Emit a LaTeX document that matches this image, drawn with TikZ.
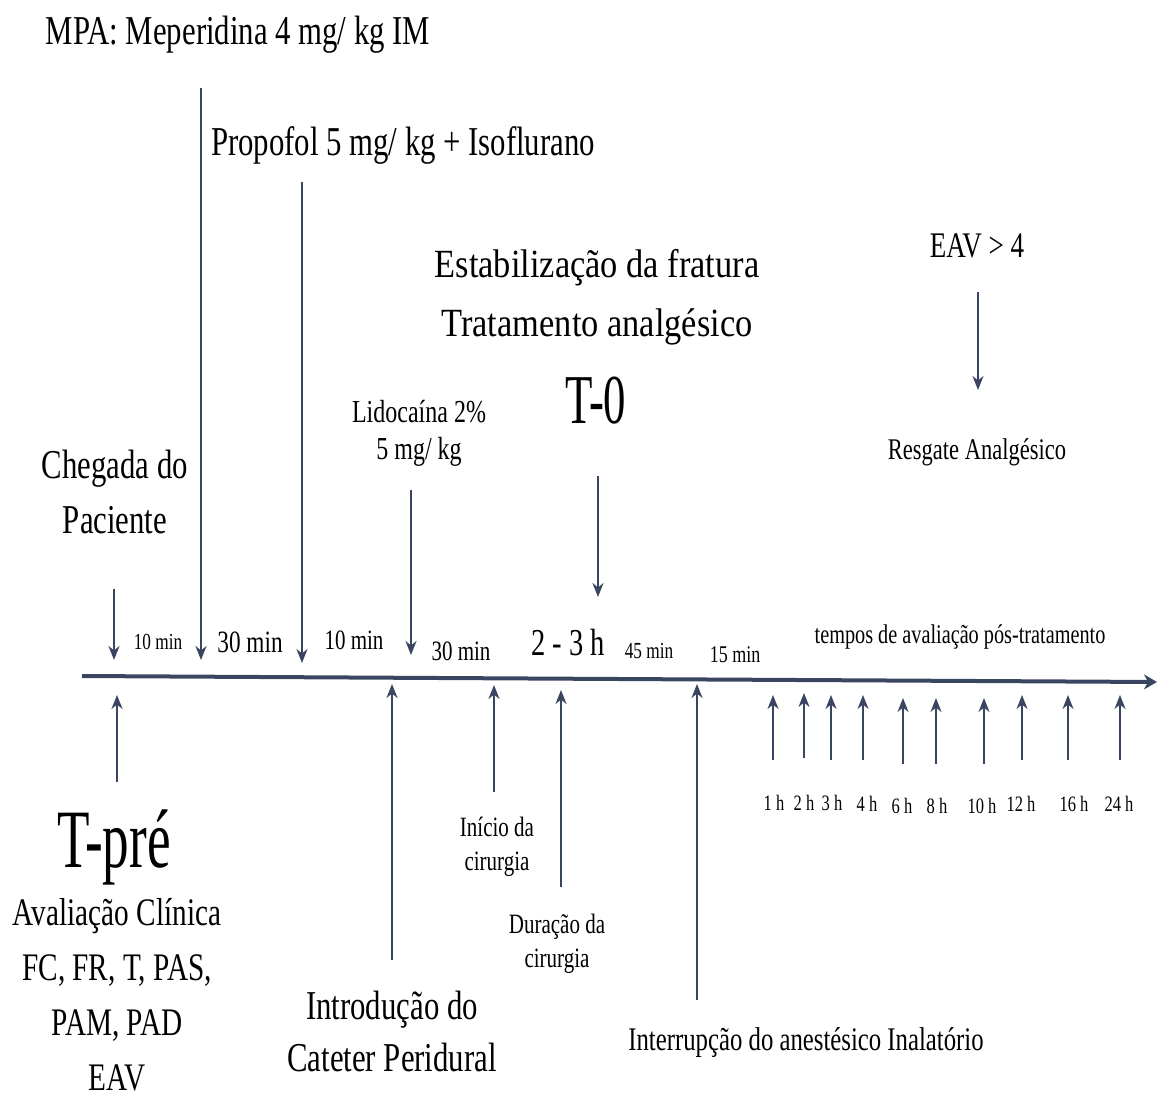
\documentclass[tikz,border=0pt]{standalone}
\usepackage{fontspec}
\setmainfont[FakeStretch=0.75]{Liberation Serif}
\newfontfamily\wideserif[FakeStretch=0.86]{Liberation Serif}
\newfontfamily\tallserif[FakeStretch=0.64]{Liberation Serif}
\usetikzlibrary{arrows.meta}

\begin{document}
\begin{tikzpicture}[x=1pt, y=-1pt,
  lbl/.style={inner sep=0pt, align=center, anchor=base},
  sz/.style 2 args={font=\fontsize{#1}{#2}\selectfont},
  szw/.style 2 args={font=\wideserif\fontsize{#1}{#2}\selectfont},
  szt/.style 2 args={font=\tallserif\fontsize{#1}{#2}\selectfont},
  evarrow/.style={draw=lineCol, line width=2.2pt, -{Stealth[length=14pt, width=11pt, inset=4.5pt]}},
  axisline/.style={draw=lineCol, line width=4pt, -{Stealth[length=13pt, width=15pt, inset=4pt]}},
]

%% ── Colours ──────────────────────────────────────────────────────────────────
\definecolor{lineCol}{HTML}{3A4661}

\useasboundingbox (0,0) rectangle (1161,1100);

%% ── Time axis ────────────────────────────────────────────────────────────────
\coordinate (tStart) at (82,676);
\coordinate (tEnd)   at (1157,682);
\draw[axisline] (tStart) -- (tEnd);

%% ── Events above the axis (multi-line nodes sit on their last baseline) ─────
\node[lbl, sz={41}{50}]  (mpa)      at (238,44)  {MPA: Meperidina 4 mg/ kg IM};
\node[lbl, sz={41}{50}]  (propofol) at (403,155) {Propofol 5 mg/ kg + Isoflurano};
\node[lbl, szw={40}{59}] (estab)    at (597,336) {Estabilização da fratura\\Tratamento analgésico};
\node[lbl, szt={70}{80}] (tzero)    at (596,423) {T-0};
\node[lbl, sz={32}{37}]  (lido)     at (419,459) {Lidocaína 2\%\\5 mg/ kg};
\node[lbl, sz={36}{40}]  (eav)      at (977,257) {EAV > 4};
\node[lbl, sz={30}{36}]  (resgate)  at (977,459) {Resgate Analgésico};
\node[lbl, sz={41}{55}]  (chegada)  at (115,533) {Chegada do\\Paciente};

\coordinate (chegadaTop) at (114,589);  \coordinate (chegadaTip) at (114,660);
\coordinate (mpaTop)     at (201,88);   \coordinate (mpaTip)     at (201,660);
\coordinate (propTop)    at (302,182);  \coordinate (propTip)    at (302,663);
\coordinate (lidoTop)    at (411,490);  \coordinate (lidoTip)    at (411,655);
\coordinate (tzeroTop)   at (598,476);  \coordinate (tzeroTip)   at (598,597);
\coordinate (eavTop)     at (978,292);  \coordinate (eavTip)     at (978,390);

\draw[evarrow] (chegadaTop) -- (chegadaTip);
\draw[evarrow] (mpaTop)     -- (mpaTip);
\draw[evarrow] (propTop)    -- (propTip);
\draw[evarrow] (lidoTop)    -- (lidoTip);
\draw[evarrow] (tzeroTop)   -- (tzeroTip);
\draw[evarrow] (eavTop)     -- (eavTip);

%% ── Interval lengths ─────────────────────────────────────────────────────────
\node[lbl, sz={23}{28}] (int1) at (158,649) {10 min};
\node[lbl, sz={31}{36}] (int2) at (250,652) {30 min};
\node[lbl, sz={28}{32}] (int3) at (354,649) {10 min};
\node[lbl, sz={28}{32}] (int4) at (461,660) {30 min};
\node[lbl, sz={38}{44}] (int5) at (568,655) {2 - 3 h};
\node[lbl, sz={23}{28}] (int6) at (649,658) {45 min};
\node[lbl, sz={24}{28}] (int7) at (735,662) {15 min};
\node[lbl, sz={27}{32}] (postTrat) at (960,643) {tempos de avaliação pós-tratamento};

%% ── Events below the axis ────────────────────────────────────────────────────
\node[lbl, szt={83}{90}] (tpre)     at (114,867)  {T-pré};
\node[lbl, sz={39}{55}]  (aval)     at (117,1090) {Avaliação Clínica\\FC, FR, T, PAS,\\PAM, PAD\\EAV};
\node[lbl, sz={41}{52}]  (cateter)  at (392,1071) {Introdução do\\Cateter Peridural};
\node[lbl, sz={28}{34}]  (inicio)   at (497,870)  {Início da\\cirurgia};
\node[lbl, sz={28}{34}]  (duracao)  at (557,967)  {Duração da\\cirurgia};
\node[lbl, sz={33}{40}]  (interrup) at (806,1050) {Interrupção do anestésico Inalatório};

\coordinate (tpreFoot)    at (117,782);  \coordinate (tpreTip)    at (117,695);
\coordinate (cateterFoot) at (392,960);  \coordinate (cateterTip) at (392,684);
\coordinate (inicioFoot)  at (494,792);  \coordinate (inicioTip)  at (494,685);
\coordinate (duracaoFoot) at (561,887);  \coordinate (duracaoTip) at (561,690);
\coordinate (interrFoot)  at (697,1000); \coordinate (interrTip)  at (697,684);

\draw[evarrow] (tpreFoot)    -- (tpreTip);
\draw[evarrow] (cateterFoot) -- (cateterTip);
\draw[evarrow] (inicioFoot)  -- (inicioTip);
\draw[evarrow] (duracaoFoot) -- (duracaoTip);
\draw[evarrow] (interrFoot)  -- (interrTip);

%% ── Post-treatment evaluation times ─────────────────────────────────────────
\foreach \x/\yt/\yb/\h in {773/695/760/1, 804/693/758/2, 831/695/760/3, 863/695/760/4,
                           903/698/764/6, 936/698/764/8, 984/698/764/10, 1022/695/760/12,
                           1068/695/760/16, 1120/695/760/24} {
  \coordinate (hFoot\h) at (\x,\yb);
  \coordinate (hTip\h)  at (\x,\yt);
  \draw[evarrow] (hFoot\h) -- (hTip\h);
}
\foreach \x/\yb/\h in {774/810/1, 804/810/2, 832/810/3, 867/811/4, 902/813/6,
                       937/813/8, 982/813/10, 1021/811/12, 1074/811/16, 1119/811/24}
  \node[lbl, sz={22}{26}] (hLbl\h) at (\x,\yb) {{\h} h};

\end{tikzpicture}
\end{document}
